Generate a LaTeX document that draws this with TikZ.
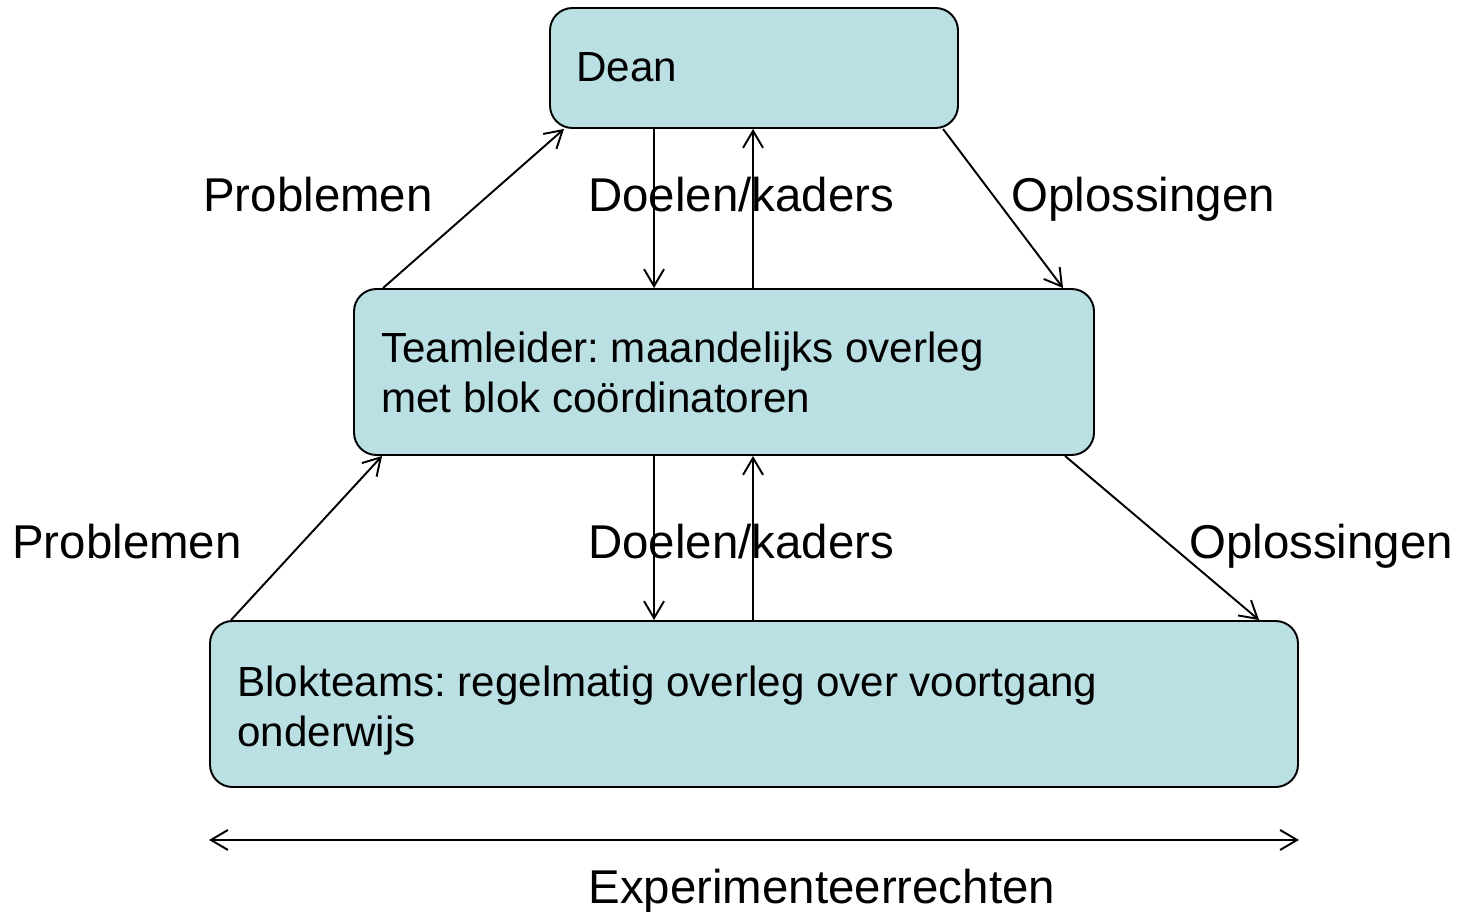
\documentclass[tikz,border=0pt]{standalone}
\usepackage{fontspec}
\setmainfont{Liberation Sans}
\usetikzlibrary{arrows.meta,calc}
\definecolor{boxfill}{HTML}{BAE0E3}
\frenchspacing
\begin{document}
\begin{tikzpicture}[x=0.02cm,y=-0.02cm,
  box/.style={draw=black, line width=1.1pt, fill=boxfill, rounded corners=0.45cm, inner sep=0pt},
  boxtext/.style={anchor=base west, align=left, inner sep=0pt, font=\fontsize{24pt}{28.45pt}\selectfont},
  lbl/.style={anchor=base west, inner sep=0pt, font=\fontsize{27pt}{32pt}\selectfont},
  link/.style={line width=1.1pt, -{Straight Barb[length=0.34cm,width=0.4cm]}},
  both/.style={line width=1.1pt, {Straight Barb[length=0.34cm,width=0.4cm]}-{Straight Barb[length=0.34cm,width=0.4cm]}}]
\useasboundingbox (0,0) rectangle (1460,912);

% the three levels
\node[box, minimum width=408*0.02cm, minimum height=120*0.02cm] (dean) at (754,68) {};
\node[box, minimum width=740*0.02cm, minimum height=166*0.02cm] (team) at (724,372) {};
\node[box, minimum width=1088*0.02cm, minimum height=166*0.02cm] (blok) at (754,704) {};

% box texts (base anchor sits on the last line)
\node[boxtext] (deantxt) at ($(dean.north west)+(27,74)$) {Dean};
\node[boxtext] (teamtxt) at ($(team.north west)+(28,124)$)
  {Teamleider: maandelijks overleg\\met blok coördinatoren};
\node[boxtext] (bloktxt) at ($(blok.north west)+(28,126)$)
  {Blokteams: regelmatig overleg over voortgang\\onderwijs};

% upper flows
\draw[link] ($(team.north west)+(30,0)$) -- ($(dean.south west)+(15,0)$);
\draw[link] ($(dean.south west)+(105,0)$) -- ($(team.north west)+(301,0)$);
\draw[link] ($(team.north west)+(400,0)$) -- ($(dean.south west)+(204,0)$);
\draw[link] ($(dean.south west)+(394,0)$) -- ($(team.north west)+(710,0)$);

% lower flows
\draw[link] ($(blok.north west)+(22,0)$) -- ($(team.south west)+(29,0)$);
\draw[link] ($(team.south west)+(301,0)$) -- ($(blok.north west)+(445,0)$);
\draw[link] ($(blok.north west)+(544,0)$) -- ($(team.south west)+(400,0)$);
\draw[link] ($(team.south west)+(712,0)$) -- ($(blok.north west)+(1050,0)$);

% range of the experiment rights
\coordinate (expL) at ($(blok.south west)+(0,52)$);
\coordinate (expR) at ($(blok.south east)+(0,52)$);
\draw[both] (expL) -- (expR);

% labels
\node[lbl] (p1) at (203,212) {Problemen};
\node[lbl] (d1) at (588,212) {Doelen/kaders};
\node[lbl] (o1) at (1011,212) {Oplossingen};
\node[lbl] (p2) at (12,558) {Problemen};
\node[lbl] (d2) at (588,558) {Doelen/kaders};
\node[lbl] (o2) at (1189,558) {Oplossingen};
\node[lbl] (exp) at (588,903) {Experimenteerrechten};
\end{tikzpicture}
\end{document}
